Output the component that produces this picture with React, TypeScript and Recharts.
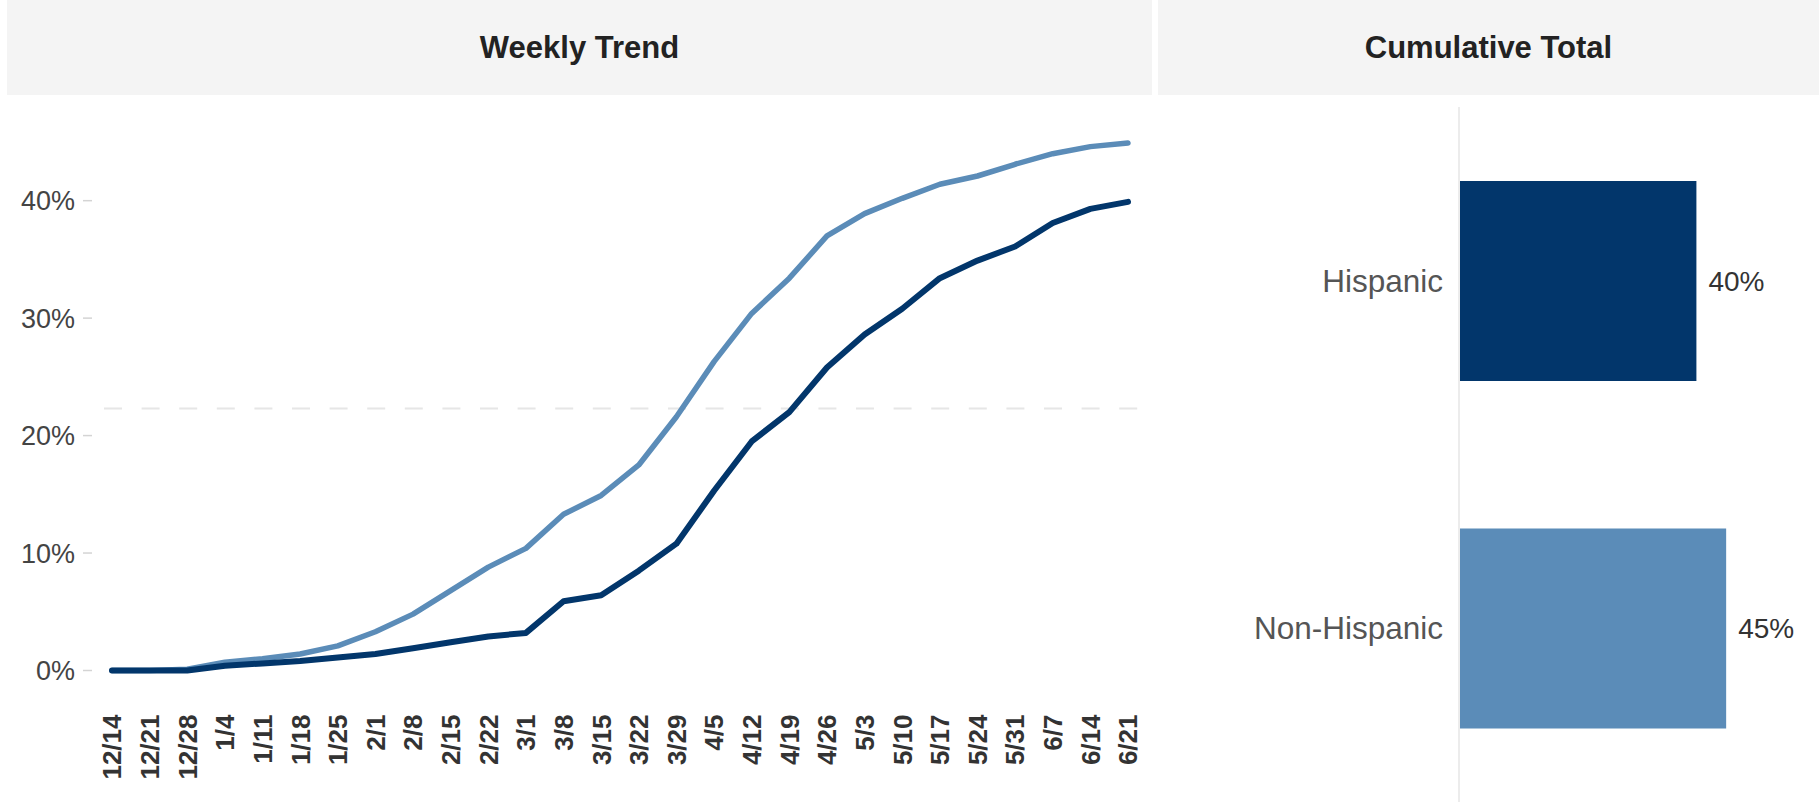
import { LineChart, Line, XAxis, YAxis, ReferenceLine, BarChart, Bar, Cell, LabelList } from 'recharts'

const weeks = [
  '12/14', '12/21', '12/28', '1/4', '1/11', '1/18', '1/25', '2/1', '2/8', '2/15',
  '2/22', '3/1', '3/8', '3/15', '3/22', '3/29', '4/5', '4/12', '4/19', '4/26',
  '5/3', '5/10', '5/17', '5/24', '5/31', '6/7', '6/14', '6/21',
]
const hispanicTrend = [
  0, 0, 0, 0.4, 0.6, 0.8, 1.1, 1.4, 1.9, 2.4, 2.9, 3.2, 5.9, 6.4, 8.5, 10.8,
  15.3, 19.5, 22.0, 25.8, 28.6, 30.8, 33.4, 34.9, 36.1, 38.1, 39.3, 39.9,
]
const nonHispanicTrend = [
  0, 0, 0.1, 0.7, 1.0, 1.4, 2.1, 3.3, 4.8, 6.8, 8.8, 10.4, 13.3, 14.9, 17.5, 21.6,
  26.3, 30.4, 33.4, 37.0, 38.9, 40.2, 41.4, 42.1, 43.1, 44.0, 44.6, 44.9,
]
const yTicks = [0, 10, 20, 30, 40]
const referenceValue = 22.3

const groups = ['Hispanic', 'Non-Hispanic']
const cumulative = [39.9, 44.9]

const DARK = '#02366b'
const LIGHT = '#5b8cb8'
const FONT = '"Liberation Sans", Arial, sans-serif'

const trendData = weeks.map((week, i) => ({
  week,
  hispanic: hispanicTrend[i],
  nonHispanic: nonHispanicTrend[i],
}))

const totalData = groups.map((group, i) => ({ group, value: cumulative[i] }))

function YTick({ x, y, payload }: any) {
  return (
    <g>
      <line x1={x - 21} x2={x - 12} y1={y} y2={y} stroke="#d4d4d4" strokeWidth={1.5} />
      <text x={x - 29} y={y} dy="0.36em" textAnchor="end" fontSize={27} fill="#444" fontFamily={FONT}>
        {payload.value}%
      </text>
    </g>
  )
}

function XTick({ x, y, payload }: any) {
  const ty = y + 44
  return (
    <text
      x={x}
      y={ty}
      transform={`rotate(-90 ${x} ${ty})`}
      textAnchor="end"
      dy="0.36em"
      fontSize={26}
      fontWeight="bold"
      fill="#333"
      fontFamily={FONT}
    >
      {payload.value}
    </text>
  )
}

function Header({ left, width, title }: { left: number; width: number; title: string }) {
  return (
    <div
      style={{
        position: 'absolute',
        left,
        top: 0,
        width,
        height: 95,
        background: '#f4f4f4',
        display: 'flex',
        alignItems: 'center',
        justifyContent: 'center',
        fontFamily: FONT,
        fontWeight: 'bold',
        fontSize: 31,
        color: '#222',
      }}
    >
      {title}
    </div>
  )
}

export default function App() {
  return (
    <div style={{ position: 'absolute', left: 0, top: 0, width: 1819, height: 802, background: '#fff', overflow: 'hidden' }}>
      <Header left={7} width={1145} title="Weekly Trend" />
      <Header left={1158} width={661} title="Cumulative Total" />

      <div style={{ position: 'absolute', left: 0, top: 95 }}>
        <LineChart width={1152} height={707} data={trendData} margin={{ top: 11.7, right: 12, left: 0, bottom: 0 }}>
          <XAxis
            dataKey="week"
            interval={0}
            height={131.5}
            tickSize={0}
            tickMargin={0}
            axisLine={false}
            tickLine={false}
            padding={{ left: 8, right: 12 }}
            tick={<XTick />}
          />
          <YAxis
            type="number"
            domain={[0, 48]}
            ticks={yTicks}
            width={104}
            tickSize={0}
            tickMargin={0}
            axisLine={false}
            tickLine={false}
            tick={<YTick />}
          />
          <ReferenceLine y={referenceValue} stroke="#e6e6e6" strokeWidth={2} strokeDasharray="18 19.6" />
          <Line
            type="linear"
            dataKey="nonHispanic"
            stroke={LIGHT}
            strokeWidth={5.5}
            strokeLinecap="round"
            strokeLinejoin="round"
            dot={false}
            isAnimationActive={false}
          />
          <Line
            type="linear"
            dataKey="hispanic"
            stroke={DARK}
            strokeWidth={6}
            strokeLinecap="round"
            strokeLinejoin="round"
            dot={false}
            isAnimationActive={false}
          />
        </LineChart>
      </div>

      <div style={{ position: 'absolute', left: 1158, top: 95 }}>
        <BarChart
          width={661}
          height={707}
          data={totalData}
          layout="vertical"
          margin={{ top: 12, right: 3, left: 0, bottom: 0 }}
        >
          <XAxis type="number" domain={[0, 60]} hide />
          <YAxis
            type="category"
            dataKey="group"
            width={301}
            tickLine={false}
            axisLine={{ stroke: '#ececec', strokeWidth: 2 }}
            tickMargin={10}
            tick={{ fontSize: 31.5, fill: '#555', fontFamily: FONT }}
          />
          <Bar dataKey="value" barSize={200} isAnimationActive={false}>
            {totalData.map((d, i) => (
              <Cell key={d.group} fill={i === 0 ? DARK : LIGHT} />
            ))}
            <LabelList
              dataKey="value"
              position="right"
              offset={12}
              formatter={(v: any) => `${Math.round(v)}%`}
              style={{ fontSize: 28, fill: '#333', fontFamily: FONT }}
            />
          </Bar>
        </BarChart>
      </div>
    </div>
  )
}
